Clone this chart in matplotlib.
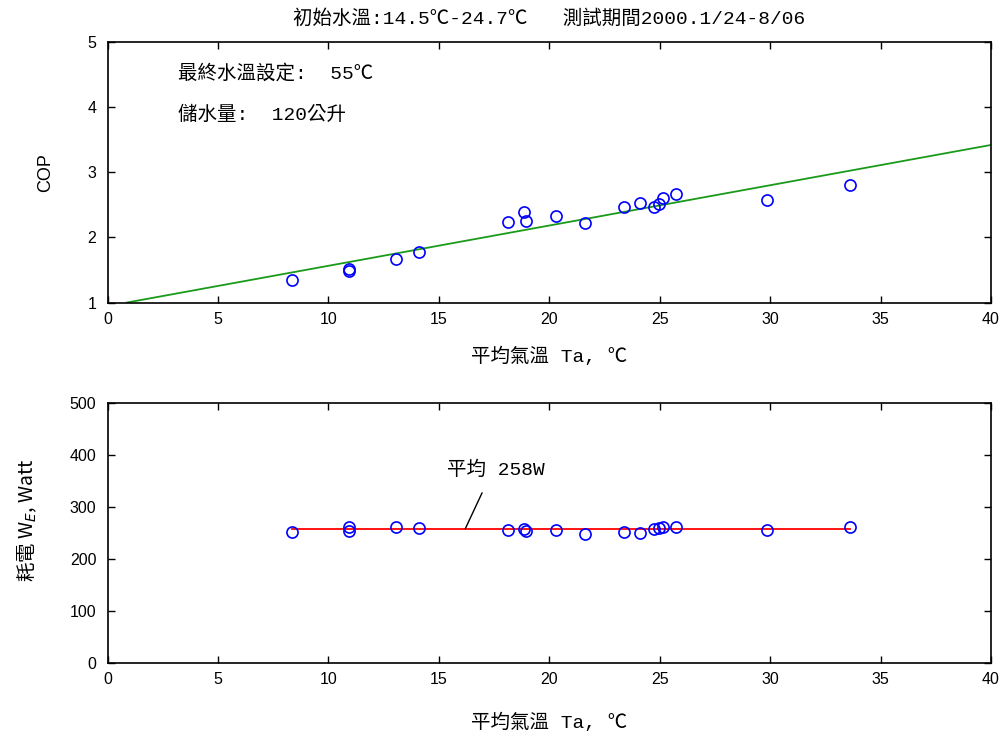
import numpy as np
import matplotlib
matplotlib.use("Agg")
import matplotlib.pyplot as plt

# measured data: ambient temperature Ta (C), COP, power (W)
ta = [8.34, 10.95, 10.95, 13.05, 14.09, 18.13, 18.84, 18.96, 20.31, 21.64,
      23.38, 24.13, 24.74, 24.95, 25.17, 25.73, 29.86, 33.63]
cop = [1.34, 1.51, 1.48, 1.67, 1.77, 2.24, 2.39, 2.26, 2.33, 2.22,
       2.47, 2.53, 2.46, 2.51, 2.61, 2.66, 2.58, 2.80]
power = [252, 262, 253, 262, 260, 255, 258, 254, 255, 248,
         252, 250, 258, 260, 261, 261, 255, 261]

# COP regression line
fit_x = [0.87, 40.0]
fit_y = [1.0, 3.42]

avg_power = 258

# latin in a monospace face, CJK from Noto
mixed = ["Liberation Mono", "Noto Sans CJK TC"]
num = ["Liberation Sans", "DejaVu Sans"]


def style_axes(ax):
    ax.tick_params(direction="in", top=True, right=True, length=5, width=1,
                   labelsize=11.5, colors="black")
    ax.tick_params(axis="x", pad=7)
    ax.tick_params(axis="y", pad=8)
    for lab in ax.get_xticklabels() + ax.get_yticklabels():
        lab.set_family(num)
    for s in ax.spines.values():
        s.set_linewidth(1.2)


def main():
    fig = plt.figure(figsize=(10.05, 7.38), dpi=100)

    ax1 = fig.add_axes([0.107, 0.590, 0.879, 0.353])
    ax1.plot(fit_x, fit_y, color="#1a9a1a", lw=1.3)
    ax1.plot(ta, cop, "o", mfc="none", mec="blue", ms=8, mew=1.2)
    ax1.set_xlim(0, 40)
    ax1.set_ylim(1, 5)
    ax1.set_xticks(range(0, 41, 5))
    ax1.set_yticks(range(1, 6))
    style_axes(ax1)
    ax1.set_ylabel("COP", family=num, fontsize=13, labelpad=24)
    ax1.set_xlabel("平均氣溫 Ta, ℃", family=mixed, fontsize=14, labelpad=14)
    ax1.set_title("初始水溫:14.5℃-24.7℃   測試期間2000.1/24-8/06",
                  family=mixed, fontsize=14, pad=13)
    ax1.text(3.2, 4.52, "最終水溫設定:  55℃", family=mixed, fontsize=14,
             va="center")
    ax1.text(3.2, 3.89, "儲水量:  120公升", family=mixed, fontsize=14,
             va="center")

    ax2 = fig.add_axes([0.107, 0.102, 0.879, 0.352])
    ax2.plot([min(ta), max(ta)], [avg_power, avg_power], color="red", lw=1.3)
    ax2.plot(ta, power, "o", mfc="none", mec="blue", ms=8, mew=1.2)
    # leader line + label for the mean
    ax2.annotate("", xy=(16.2, avg_power), xytext=(16.96, 327),
                 arrowprops=dict(arrowstyle="-", color="black", lw=1,
                                 shrinkA=0, shrinkB=0))
    ax2.text(15.35, 372, "平均 258W", family=mixed, fontsize=14, va="center")
    ax2.set_xlim(0, 40)
    ax2.set_ylim(0, 500)
    ax2.set_xticks(range(0, 41, 5))
    ax2.set_yticks(range(0, 501, 100))
    style_axes(ax2)
    ax2.set_ylabel("耗電 W$_E$, Watt", family="Noto Sans CJK TC", fontsize=14)
    ax2.yaxis.set_label_coords(-0.078, 0.55)
    ax2.set_xlabel("平均氣溫 Ta, ℃", family=mixed, fontsize=14, labelpad=18)

    fig.savefig("out.png", dpi=100)


if __name__ == "__main__":
    main()
